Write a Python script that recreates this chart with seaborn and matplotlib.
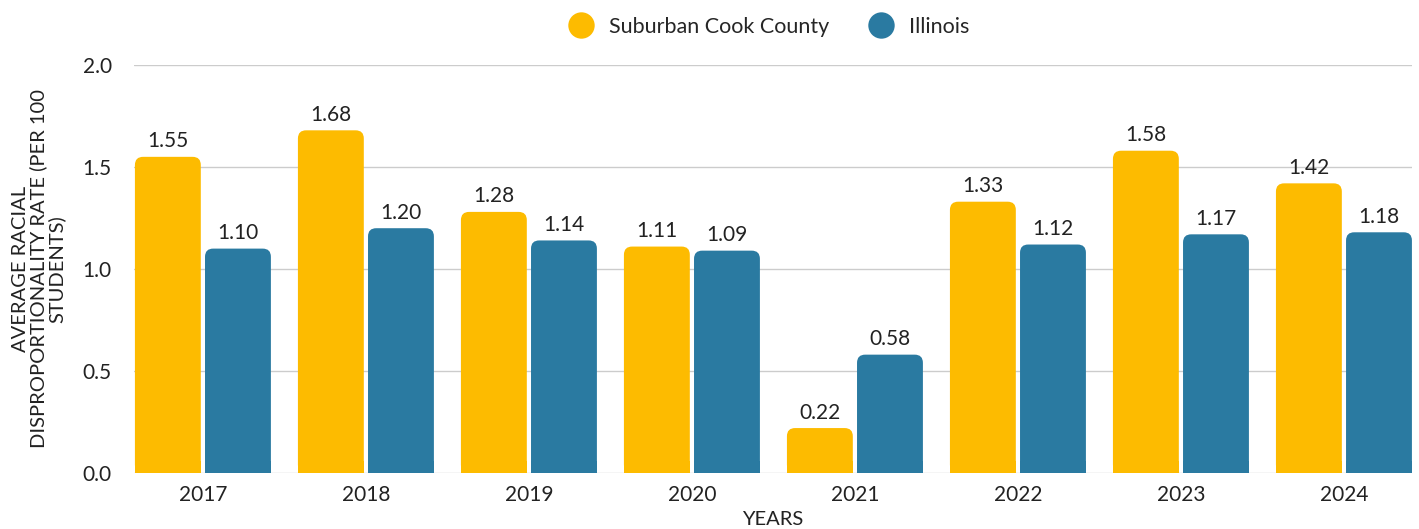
import matplotlib
matplotlib.use("Agg")
import matplotlib.pyplot as plt
import seaborn as sns
import pandas as pd
from matplotlib.patches import FancyBboxPatch
from matplotlib.lines import Line2D

years = ["2017", "2018", "2019", "2020", "2021", "2022", "2023", "2024"]
suburban_cook = [1.55, 1.68, 1.28, 1.11, 0.22, 1.33, 1.58, 1.42]
illinois = [1.10, 1.20, 1.14, 1.09, 0.58, 1.12, 1.17, 1.18]
series_names = ["Suburban Cook County", "Illinois"]
colors = ["#FDBB00", "#2A7AA1"]

df = pd.DataFrame({
    "year": years * 2,
    "rate": suburban_cook + illinois,
    "region": [series_names[0]] * len(years) + [series_names[1]] * len(years),
})

sns.set_style("white")
plt.rcParams["font.family"] = ["Lato", "DejaVu Sans"]

fig = plt.figure(figsize=(14.19, 5.29), dpi=100)
ax = fig.add_axes([0.0944, 0.106, 0.9006, 0.771])

sns.barplot(data=df, x="year", y="rate", hue="region", palette=colors,
            width=0.86, gap=0.06, ax=ax, legend=False, saturation=1)

# swap plain bars for ones with rounded top corners
old = list(ax.patches)
for p in old:
    x, y = p.get_x(), p.get_y()
    w, h = p.get_width(), p.get_height()
    p.set_visible(False)
    r = FancyBboxPatch((x, y), w, h, boxstyle="round,pad=0,rounding_size=0.05",
                       mutation_aspect=0.8, facecolor=p.get_facecolor(),
                       edgecolor="none", zorder=3)
    ax.add_patch(r)
    # square off the bottom corners
    ax.add_patch(plt.Rectangle((x, y), w, min(h, 0.06), facecolor=p.get_facecolor(),
                               edgecolor="none", zorder=3))

for cont in ax.containers:
    ax.bar_label(cont, fmt="%.2f", padding=4, fontsize=15, color="#222222")

ax.set_ylim(0, 2.0)
ax.set_xlim(-0.423, 7.417)
ax.set_yticks([0, 0.5, 1.0, 1.5, 2.0])
ax.set_yticklabels(["0.0", "0.5", "1.0", "1.5", "2.0"])
ax.yaxis.grid(True, color="#CCCCCC", linewidth=1)
ax.set_axisbelow(True)
for s in ax.spines.values():
    s.set_visible(False)
ax.tick_params(axis="both", length=0, labelsize=15, colors="#222222")
ax.tick_params(axis="y", pad=16)
ax.tick_params(axis="x", pad=9)

ax.set_xlabel("YEARS", fontsize=14.5, color="#222222", labelpad=4)
ax.set_ylabel("AVERAGE RACIAL\nDISPROPORTIONALITY RATE (PER 100\nSTUDENTS)",
              fontsize=14.5, color="#222222", linespacing=1.05, labelpad=12)

handles = [Line2D([], [], marker="o", linestyle="none", markersize=19,
                  markerfacecolor=c, markeredgecolor="none") for c in colors]
fig.legend(handles, series_names, loc="upper center", bbox_to_anchor=(0.539, 1.005),
           ncol=2, frameon=False, fontsize=15.5, handletextpad=0.3, columnspacing=1.4)

fig.savefig("out.png", dpi=100)
